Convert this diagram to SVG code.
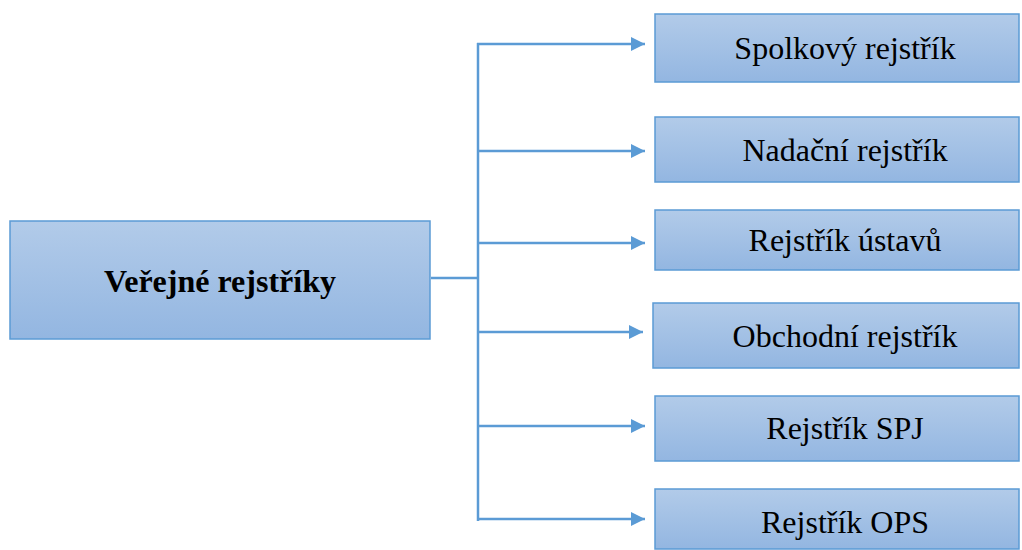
<svg xmlns="http://www.w3.org/2000/svg" width="1022" height="550" viewBox="0 0 1022 550">
<defs>
<linearGradient id="g" x1="0" y1="0" x2="0" y2="1">
<stop offset="0" stop-color="#b2cbe9"/>
<stop offset="1" stop-color="#93b6e1"/>
</linearGradient>
<marker id="ah" markerUnits="userSpaceOnUse" markerWidth="16" markerHeight="16" refX="14" refY="7" orient="auto">
<path d="M0,0 L14,7 L0,14 Z" fill="#5b9bd5"/>
</marker>
<style>
.box{fill:url(#g);stroke:#5b9bd5;stroke-width:1.5}
.t{font-family:"Liberation Serif","Times New Roman",serif;font-size:32px;fill:#000;text-anchor:middle}
.b{font-weight:bold}
.c{stroke:#5b9bd5;stroke-width:2.5;fill:none}
</style>
</defs>
<rect width="1022" height="550" fill="#fff"/>
<g id="connectors">
<path class="c" d="M431,278 H478"/>
<path class="c" d="M478,43 V521"/>
<path class="c" d="M477,44 H645" marker-end="url(#ah)"/>
<path class="c" d="M477,151 H645" marker-end="url(#ah)"/>
<path class="c" d="M477,243 H645" marker-end="url(#ah)"/>
<path class="c" d="M477,332 H643" marker-end="url(#ah)"/>
<path class="c" d="M477,426 H645" marker-end="url(#ah)"/>
<path class="c" d="M477,519 H645" marker-end="url(#ah)"/>
</g>
<g id="main">
<rect class="box" x="10" y="221" width="420" height="118"/>
<text class="t b" x="220" y="292">Veřejné rejstříky</text>
</g>
<g id="spolkovy">
<rect class="box" x="655" y="14" width="364" height="68"/>
<text class="t" x="845" y="59">Spolkový rejstřík</text>
</g>
<g id="nadacni">
<rect class="box" x="655" y="117" width="364" height="65"/>
<text class="t" x="845" y="161">Nadační rejstřík</text>
</g>
<g id="ustavu">
<rect class="box" x="655" y="210" width="364" height="60"/>
<text class="t" x="845" y="251">Rejstřík ústavů</text>
</g>
<g id="obchodni">
<rect class="box" x="653" y="303" width="366" height="65"/>
<text class="t" x="845" y="347">Obchodní rejstřík</text>
</g>
<g id="spj">
<rect class="box" x="655" y="396" width="364" height="65"/>
<text class="t" x="845" y="439">Rejstřík SPJ</text>
</g>
<g id="ops">
<rect class="box" x="655" y="489" width="364" height="60"/>
<text class="t" x="845" y="533">Rejstřík OPS</text>
</g>
</svg>
